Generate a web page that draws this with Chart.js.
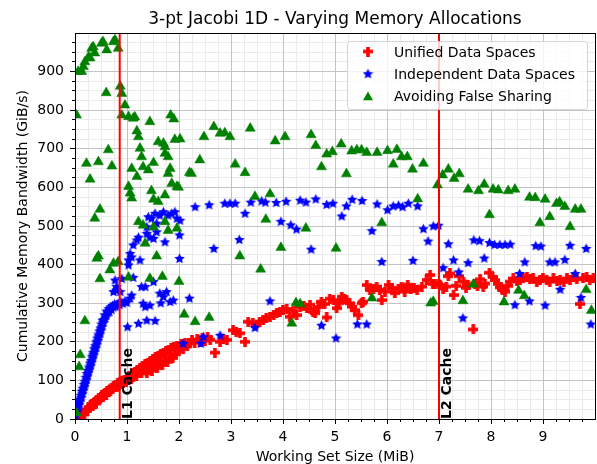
<!DOCTYPE html>
<html><head><meta charset="utf-8">
<script src="https://cdn.jsdelivr.net/npm/chart.js"></script>
<style>html,body{margin:0;padding:0;background:#fff;}#wrap{width:597px;height:464px;}</style>
</head><body><div id="wrap"><canvas id="c" width="597" height="464"></canvas></div>
<script>
const titleText = '3-pt Jacobi 1D - Varying Memory Allocations';
const xLabel = 'Working Set Size (MiB)';
const yLabel = 'Cumulative Memory Bandwidth (GiB/s)';
const seriesNames = ['Unified Data Spaces', 'Independent Data Spaces', 'Avoiding False Sharing'];
const xTicks = [0, 1, 2, 3, 4, 5, 6, 7, 8, 9];
const yTicks = [0, 100, 200, 300, 400, 500, 600, 700, 800, 900];
const cacheX = [0.86, 7];
const cacheLabels = ['L1 Cache', 'L2 Cache'];

const unified = [
[0.08,3],[0.1,8],[0.12,5],[0.14,12],[0.16,15],[0.18,12],[0.2,20],[0.22,24],[0.24,22],[0.26,30],[0.28,28],[0.3,35],[0.32,38],[0.34,33],[0.36,42],[0.38,45],[0.4,40],[0.42,50],[0.44,48],[0.46,55],[0.48,52],[0.5,58],[0.52,62],[0.54,56],[0.56,65],[0.58,68],[0.6,62],[0.62,72],[0.64,70],[0.66,76],[0.68,73],[0.7,80],[0.72,78],[0.74,85],[0.76,82],[0.78,88],[0.8,84],[0.82,92],[0.84,86],[0.86,95],[0.88,90],[0.9,98],[0.92,92],[0.95,102],[0.98,96],[1.0,106],[1.02,100],[1.05,112],[1.08,104],[1.1,118],[1.12,108],[1.15,122],[1.18,112],[1.2,127],[1.22,118],[1.25,132],[1.28,120],[1.3,137],[1.32,126],[1.35,142],[1.38,118],[1.4,146],[1.42,130],[1.45,150],[1.48,125],[1.5,155],[1.52,138],[1.55,160],[1.58,132],[1.6,164],[1.62,145],[1.65,168],[1.68,140],[1.7,172],[1.72,152],[1.75,176],[1.78,148],[1.8,180],[1.82,160],[1.85,183],[1.88,158],[1.9,186],[1.93,168],[1.96,190],[2.0,175],[2.04,194],[2.08,182],[2.12,198],[2.16,188],[2.2,196],[2.25,204],[2.3,198],[2.35,206],[2.4,200],[2.45,210],[2.5,203],[2.55,212],[2.6,205],[2.69,172],[2.79,200],[2.85,208],[2.92,205],[3.04,230],[3.1,225],[3.17,222],[3.27,200],[3.33,252],[3.42,248],[3.49,243],[3.55,252],[3.62,256],[3.68,262],[3.75,265],[3.82,270],[3.88,274],[3.94,278],[4.0,282],[4.07,285],[4.13,265],[4.2,280],[4.26,269],[4.33,290],[4.4,292],[4.46,287],[4.52,296],[4.58,278],[4.62,274],[4.68,290],[4.74,304],[4.8,298],[4.84,263],[4.9,312],[4.97,308],[5.03,287],[5.08,300],[5.13,317],[5.18,310],[5.22,308],[5.28,300],[5.32,291],[5.38,282],[5.45,269],[5.51,300],[5.54,304],[5.61,347],[5.67,334],[5.74,338],[5.8,343],[5.86,335],[5.9,308],[5.96,330],[6.03,347],[6.09,340],[6.15,326],[6.22,338],[6.28,342],[6.34,330],[6.4,348],[6.46,336],[6.52,340],[6.58,335],[6.67,343],[6.76,360],[6.83,373],[6.88,350],[6.92,351],[6.99,351],[7.02,347],[7.08,338],[7.14,343],[7.18,370],[7.21,377],[7.28,321],[7.33,345],[7.39,370],[7.47,356],[7.52,340],[7.56,347],[7.66,232],[7.69,351],[7.74,345],[7.79,362],[7.85,343],[7.88,351],[7.97,379],[8.03,368],[8.08,360],[8.13,350],[8.17,341],[8.22,335],[8.27,330],[8.32,345],[8.37,356],[8.43,364],[8.5,358],[8.56,360],[8.62,365],[8.69,369],[8.75,362],[8.81,364],[8.88,355],[8.94,360],[9.0,365],[9.07,360],[9.13,356],[9.2,364],[9.27,358],[9.33,360],[9.4,355],[9.46,364],[9.52,360],[9.58,368],[9.65,362],[9.71,298],[9.77,365],[9.84,368],[9.9,360],[9.97,364]
];

const independent = [
[0.02,10],[0.03,22],[0.04,20],[0.05,34],[0.06,29],[0.07,44],[0.08,38],[0.09,52],[0.1,47],[0.11,62],[0.12,56],[0.13,72],[0.14,66],[0.15,80],[0.16,75],[0.17,90],[0.18,84],[0.19,98],[0.2,93],[0.21,108],[0.22,102],[0.23,118],[0.24,112],[0.25,126],[0.26,121],[0.27,135],[0.28,130],[0.29,145],[0.3,139],[0.31,152],[0.32,148],[0.33,163],[0.34,158],[0.35,172],[0.36,167],[0.37,182],[0.38,176],[0.39,190],[0.4,185],[0.41,200],[0.42,194],[0.43,210],[0.44,204],[0.45,218],[0.46,213],[0.47,228],[0.48,222],[0.49,236],[0.5,231],[0.51,246],[0.52,240],[0.53,256],[0.54,250],[0.56,258],[0.57,270],[0.58,262],[0.6,268],[0.61,280],[0.63,276],[0.65,286],[0.66,278],[0.68,290],[0.7,284],[0.72,294],[0.74,290],[0.76,298],[0.78,292],[0.8,296],[0.83,300],[0.86,296],[0.88,304],[0.92,300],[0.96,306],[1.0,302],
[0.74,330],[0.77,360],[0.8,343],[0.8,334],[0.87,330],[0.9,364],[1.01,239],[1.03,412],[1.03,399],[1.06,313],[1.06,429],[1.09,420],[1.09,321],[1.12,451],[1.12,367],[1.19,464],[1.22,471],[1.22,248],[1.25,412],[1.28,343],[1.31,300],[1.35,343],[1.35,291],[1.38,256],[1.38,481],[1.38,498],[1.41,524],[1.44,471],[1.44,295],[1.47,520],[1.51,468],[1.51,356],[1.54,533],[1.54,255],[1.57,507],[1.57,485],[1.63,528],[1.63,326],[1.65,301],[1.7,537],[1.7,317],[1.73,459],[1.76,330],[1.79,528],[1.83,304],[1.86,533],[1.89,308],[1.92,537],[1.96,520],[2.01,477],[2.01,416],[2.02,515],[2.08,196],[2.2,313],[2.31,550],[2.42,196],[2.47,213],[2.58,555],[2.67,442],[2.79,217],[2.88,559],[2.98,559],[3.08,559],[3.16,465],[3.27,533],[3.38,562],[3.46,237],[3.59,565],[3.66,562],[3.75,306],[3.87,561],[3.96,512],[4.06,564],[4.15,503],[4.26,492],[4.33,567],[4.44,562],[4.54,440],[4.63,570],[4.74,243],[4.84,556],[4.96,559],[5.02,210],[5.13,526],[5.22,552],[5.33,569],[5.43,246],[5.52,566],[5.61,246],[5.71,488],[5.81,557],[5.9,408],[6.01,542],[6.12,552],[6.22,554],[6.3,550],[6.41,559],[6.5,411],[6.59,552],[6.7,493],[6.79,461],[6.89,500],[6.99,502],[7.08,392],[7.18,454],[7.28,412],[7.38,381],[7.46,262],[7.56,405],[7.67,464],[7.78,462],[7.87,417],[7.97,457],[8.07,452],[8.17,452],[8.27,452],[8.37,453],[8.46,296],[8.55,377],[8.65,407],[8.74,306],[8.86,449],[8.96,448],[9.04,295],[9.13,407],[9.23,407],[9.33,336],[9.42,413],[9.52,450],[9.62,377],[9.73,315],[9.83,442],[9.92,246]
];

const avoiding = [
[0.03,787],[0.03,15],[0.06,900],[0.08,135],[0.1,166],[0.13,900],[0.16,913],[0.19,925],[0.19,254],[0.22,662],[0.26,938],[0.29,935],[0.29,621],[0.32,960],[0.35,964],[0.38,948],[0.38,520],[0.42,416],[0.45,666],[0.45,422],[0.48,543],[0.48,363],[0.51,973],[0.54,977],[0.6,845],[0.61,956],[0.64,697],[0.67,386],[0.71,655],[0.74,977],[0.74,403],[0.77,982],[0.83,960],[0.83,407],[0.87,862],[0.9,843],[0.9,787],[0.96,813],[1.03,783],[1.03,602],[1.03,367],[1.06,585],[1.09,649],[1.09,572],[1.12,779],[1.15,782],[1.19,746],[1.19,628],[1.22,731],[1.22,511],[1.25,701],[1.28,679],[1.31,653],[1.31,502],[1.35,455],[1.41,645],[1.44,770],[1.44,364],[1.47,591],[1.51,664],[1.51,569],[1.51,497],[1.57,422],[1.6,718],[1.6,563],[1.68,369],[1.7,714],[1.73,705],[1.73,580],[1.73,688],[1.73,511],[1.79,636],[1.79,679],[1.79,488],[1.83,649],[1.84,787],[1.86,610],[1.9,777],[1.92,724],[1.96,494],[1.96,602],[1.99,600],[2.0,356],[2.02,725],[2.1,271],[2.2,638],[2.24,636],[2.31,252],[2.4,671],[2.48,731],[2.58,263],[2.67,757],[2.79,740],[2.88,741],[2.98,731],[3.08,660],[3.17,422],[3.27,638],[3.37,753],[3.46,576],[3.57,388],[3.67,517],[3.75,583],[3.85,720],[3.96,444],[4.04,731],[4.17,248],[4.25,301],[4.33,298],[4.44,494],[4.54,736],[4.63,708],[4.74,653],[4.84,686],[4.95,692],[5.02,442],[5.12,712],[5.22,635],[5.32,694],[5.42,697],[5.51,697],[5.61,690],[5.71,313],[5.81,690],[5.9,508],[6.01,695],[6.12,660],[6.19,698],[6.28,679],[6.39,679],[6.49,647],[6.59,570],[6.7,662],[6.84,300],[6.89,304],[6.97,606],[7.07,632],[7.18,647],[7.29,623],[7.39,635],[7.46,306],[7.56,595],[7.66,349],[7.76,591],[7.87,608],[7.97,529],[8.04,595],[8.14,593],[8.25,303],[8.33,591],[8.46,595],[8.53,333],[8.64,319],[8.74,574],[8.85,573],[8.94,508],[9.04,569],[9.13,524],[9.26,558],[9.32,562],[9.42,550],[9.52,498],[9.62,543],[9.73,543],[9.83,335],[9.93,281]
];

const RED = '#ff0000', BLUE = '#0000ff', GREEN = '#008000';

function makePlus(color) {
  const s = 10, t = 3.6, c = document.createElement('canvas');
  c.width = s; c.height = s;
  const g = c.getContext('2d'); g.fillStyle = color;
  const m = (s - t) / 2;
  g.fillRect(m, 0, t, s); g.fillRect(0, m, s, t);
  return c;
}
function makeStar(color) {
  const s = 11, c = document.createElement('canvas');
  c.width = s; c.height = s;
  const g = c.getContext('2d'); g.fillStyle = color;
  const R = 5.5, r = R * 0.48, cx = s / 2, cy = s / 2 + 0.4;
  g.beginPath();
  for (let i = 0; i < 10; i++) {
    const rad = (i % 2) ? r : R, a = -Math.PI / 2 + i * Math.PI / 5;
    const px = cx + rad * Math.cos(a), py = cy + rad * Math.sin(a);
    if (i === 0) g.moveTo(px, py); else g.lineTo(px, py);
  }
  g.closePath(); g.fill();
  return c;
}
const plusImg = makePlus(RED), starImg = makeStar(BLUE);
const toPts = arr => arr.map(p => ({ x: p[0], y: p[1] }));
const FONT = 'DejaVu Sans';
Chart.defaults.font.family = FONT;
Chart.defaults.color = '#000';

function alignPx(p) { return Math.round(p - 0.5) + 0.5; }

const decor = {
  id: 'decor',
  beforeDraw(chart) {
    const { ctx, chartArea: a, scales: { x, y } } = chart;
    ctx.save();
    ctx.fillStyle = '#fff'; ctx.fillRect(0, 0, chart.width, chart.height);
    ctx.strokeStyle = '#ebebeb'; ctx.lineWidth = 1;
    ctx.beginPath();
    for (let i = 1; i < 40; i++) {
      if (i % 4 === 0) continue;
      const px = alignPx(x.getPixelForValue(i * 0.25));
      ctx.moveTo(px, a.top); ctx.lineTo(px, a.bottom);
      const py = alignPx(y.getPixelForValue(i * 25));
      ctx.moveTo(a.left, py); ctx.lineTo(a.right, py);
    }
    ctx.stroke();
    ctx.restore();
  },
  afterDatasetsDraw(chart) {
    const { ctx, chartArea: a, scales: { x, y } } = chart;
    ctx.save();
    ctx.strokeStyle = RED; ctx.lineWidth = 2;
    cacheX.forEach((cx, i) => {
      const px = x.getPixelForValue(cx);
      ctx.beginPath(); ctx.moveTo(px, a.top); ctx.lineTo(px, a.bottom); ctx.stroke();
      ctx.save();
      ctx.translate(px + 12, a.bottom);
      ctx.rotate(-Math.PI / 2);
      ctx.font = 'bold 14px "' + FONT + '"';
      ctx.fillStyle = '#000'; ctx.textAlign = 'left'; ctx.textBaseline = 'alphabetic';
      ctx.fillText(cacheLabels[i], 0, 0);
      ctx.restore();
    });
    ctx.strokeStyle = '#000'; ctx.lineWidth = 1;
    ctx.beginPath();
    for (let i = 1; i < 40; i++) {
      if (i % 4 === 0) continue;
      const px = alignPx(x.getPixelForValue(i * 0.25));
      ctx.moveTo(px, a.bottom); ctx.lineTo(px, a.bottom + 3);
      const py = alignPx(y.getPixelForValue(i * 25));
      ctx.moveTo(a.left, py); ctx.lineTo(a.left - 3, py);
    }
    ctx.stroke();
    ctx.strokeStyle = '#000'; ctx.lineWidth = 1;
    ctx.strokeRect(alignPx(a.left), alignPx(a.top), Math.round(a.right - a.left), Math.round(a.bottom - a.top));
    const lx = 347, ly = 41, lw = 240, lh = 68;
    ctx.beginPath();
    ctx.roundRect(lx + 0.5, ly + 0.5, lw, lh, 3);
    ctx.fillStyle = 'rgba(255,255,255,0.8)'; ctx.fill();
    ctx.strokeStyle = 'rgba(204,204,204,0.8)'; ctx.stroke();
    const bases = [57, 79.2, 101.4];
    const mx = 368;
    ctx.font = '14px "' + FONT + '"';
    ctx.fillStyle = '#000'; ctx.textAlign = 'left'; ctx.textBaseline = 'alphabetic';
    seriesNames.forEach((n, i) => {
      const my = bases[i] - 5.5;
      if (i === 0) ctx.drawImage(plusImg, mx - 5, my - 5);
      else if (i === 1) ctx.drawImage(starImg, mx - 5.5, my - 5.5);
      else {
        const r = 5.8;
        ctx.save(); ctx.fillStyle = GREEN; ctx.beginPath();
        ctx.moveTo(mx, my - r + 1.5);
        ctx.lineTo(mx + r * 0.866, my + r * 0.5 + 1.5);
        ctx.lineTo(mx - r * 0.866, my + r * 0.5 + 1.5);
        ctx.closePath(); ctx.fill(); ctx.restore();
      }
      ctx.fillStyle = '#000';
      ctx.fillText(n, 394, bases[i]);
    });
    ctx.restore();
  },
  afterDraw(chart) {
    const { ctx, chartArea: a } = chart;
    ctx.save();
    ctx.font = '17px "' + FONT + '"';
    ctx.fillStyle = '#000'; ctx.textAlign = 'center'; ctx.textBaseline = 'alphabetic';
    ctx.fillText(titleText, (a.left + a.right) / 2, 23.5);
    ctx.restore();
  }
};

new Chart(document.getElementById('c'), {
  type: 'scatter',
  data: {
    datasets: [
      { label: seriesNames[0], data: toPts(unified), pointStyle: plusImg, pointRadius: 5, order: 2, backgroundColor: RED, borderColor: RED, clip: 0 },
      { label: seriesNames[1], data: toPts(independent), pointStyle: starImg, pointRadius: 5, order: 1, backgroundColor: BLUE, borderColor: BLUE, clip: 0 },
      { label: seriesNames[2], data: toPts(avoiding), pointStyle: 'triangle', pointRadius: 5.8, borderWidth: 0.5, order: 0, backgroundColor: GREEN, borderColor: GREEN, clip: 0 }
    ]
  },
  options: {
    responsive: false, animation: false, devicePixelRatio: 1, events: [],
    layout: { autoPadding: false, padding: { top: 33, right: 2, left: 0, bottom: 0 } },
    plugins: { legend: { display: false }, tooltip: { enabled: false }, title: { display: false } },
    scales: {
      x: {
        type: 'linear', min: 0, max: 10,
        afterBuildTicks: s => { s.ticks = xTicks.map(v => ({ value: v })); },
        afterFit: s => { s.height = 45; s.paddingRight = 0; s.paddingLeft = 0; },
        ticks: { font: { size: 14 }, color: '#000', padding: 5, maxRotation: 0, autoSkip: false },
        grid: { color: '#c4c4c4', lineWidth: 1, tickLength: 5, tickColor: '#000', drawTicks: true },
        border: { color: '#000', width: 1 },
        title: { display: true, text: xLabel, font: { size: 14, lineHeight: 1.0 }, color: '#000', padding: { top: 0, bottom: 0 } }
      },
      y: {
        type: 'linear', min: 0, max: 1000,
        afterBuildTicks: s => { s.ticks = yTicks.map(v => ({ value: v })); },
        afterFit: s => { s.width = 75; s.paddingTop = 0; s.paddingBottom = 0; },
        ticks: { font: { size: 14 }, color: '#000', padding: 6, autoSkip: false },
        grid: { color: '#c4c4c4', lineWidth: 1, tickLength: 5, tickColor: '#000', drawTicks: true },
        border: { color: '#000', width: 1 },
        title: { display: true, text: yLabel, font: { size: 14 }, color: '#000', padding: { top: 14.6, bottom: 0 } }
      }
    }
  },
  plugins: [decor]
});
</script></body></html>
